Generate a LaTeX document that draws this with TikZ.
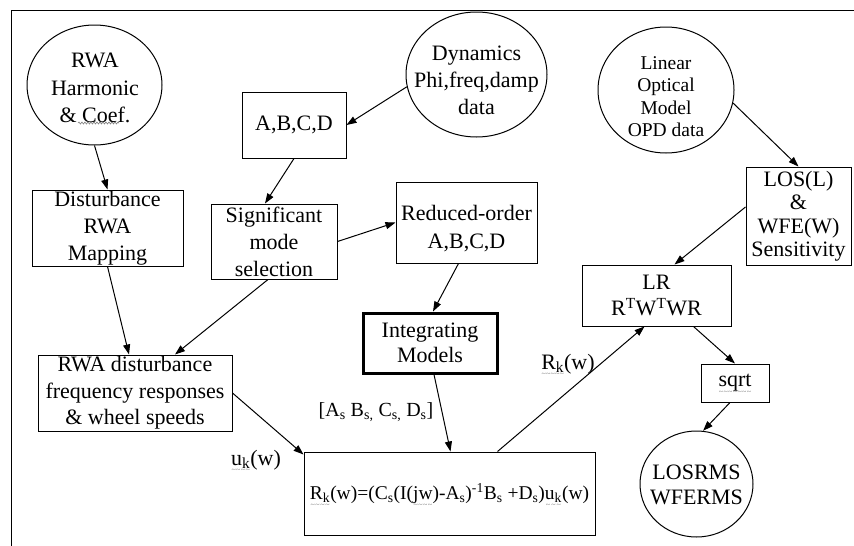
\documentclass[tikz,border=0pt]{standalone}
\usepackage{fontspec}
\setmainfont{Liberation Serif}
\usetikzlibrary{shapes.geometric,arrows.meta,decorations.pathmorphing}
% grey wavy underline (proofing marks under some words)
\newsavebox\squigbox
\newcommand\squig[1]{\sbox\squigbox{#1}%
  \rlap{\smash{\lower7.5pt\hbox to\wd\squigbox{\fontsize{8}{8}\selectfont\color{gray}\xleaders\hbox{\char126}\hfill}}}%
  \usebox\squigbox}

\begin{document}
\begin{tikzpicture}[x=1pt,y=-1pt,
  every node/.style={font=\fontsize{22}{27}\selectfont},
  box/.style={draw, line width=1pt, inner sep=0pt, align=center},
  oval/.style={draw, ellipse, line width=1pt, inner sep=0pt},
  txt/.style={align=center, inner sep=0pt},
  lbl/.style={inner sep=0pt},
  wave/.style={gray, line width=0.6pt, decorate, decoration={snake, amplitude=1pt, segment length=3pt}},
  arr/.style={line width=1pt, -{Triangle[length=10pt,width=7pt]}}]

\useasboundingbox (0,0) rectangle (854,546);
\fill[white] (0,0) rectangle (854,546);
% page frame
\draw[line width=1pt] (11,546) -- (11,10) -- (854,10);

% data sources
\node[oval, minimum width=135pt, minimum height=120pt] (rwa) at (94.5,85) {};
\node[txt, font=\fontsize{22}{27.5}\selectfont] (rwatext) at (95,88) {RWA\\Harmonic\\\& Coef.};
\draw[wave] (78,123) -- (119,123);

\node[oval, minimum width=141pt, minimum height=125pt] (dyn) at (476.5,74.5) {};
\node[txt] at (476.5,80) {Dynamics\\Phi,freq,damp\\data};

\node[oval, minimum width=136pt, minimum height=126pt] (lin) at (666,90) {};
\node[txt, font=\fontsize{19.5}{22.4}\selectfont] at (666,96.5) {Linear\\Optical\\Model\\OPD data};

\node[oval, minimum width=113pt, minimum height=106pt] (rms) at (696.5,484) {};
\node[txt, font=\fontsize{22}{25}\selectfont] at (696.5,485) {LOSRMS\\WFERMS};

% processing blocks
\node[box, minimum width=151pt, minimum height=76pt] (dist) at (107.5,228) {Disturbance\\RWA\\Mapping};
\node[box, minimum width=104pt, minimum height=66pt] (abcd) at (294,125) {A,B,C,D};
\node[box, minimum width=126pt, minimum height=75pt] (sig) at (274,241.5) {Significant\\mode\\selection};
\node[box, minimum width=141pt, minimum height=81pt, font=\fontsize{22}{28}\selectfont] (red) at (466.5,222.5) {\rule{0pt}{27pt}Reduced-order\\A,B,C,D};
\node[box, line width=3pt, minimum width=134pt, minimum height=60pt, font=\fontsize{22}{25}\selectfont] (intg) at (430,343) {Integrating\\Models};
\node[box, minimum width=194pt, minimum height=76pt, font=\fontsize{22}{26.5}\selectfont] (rwad) at (135,393) {RWA disturbance\\frequency responses\\\& wheel speeds};
\node[box, minimum width=291pt, minimum height=83pt, font=\fontsize{19.5}{24}\selectfont] (eq) at (449.5,493.5)
  {\squig{R\textsubscript{k}}(w)=(C\textsubscript{s}(I(\squig{jw})-A\textsubscript{s})\textsuperscript{-1}B\textsubscript{s} +D\textsubscript{s})\squig{u\textsubscript{k}}(w)};
\node[box, minimum width=149pt, minimum height=61pt, font=\fontsize{22}{26}\selectfont] (lr) at (656.5,295.5) {LR\\R\textsuperscript{T}W\textsuperscript{T}WR};
\node[box, minimum width=105pt, minimum height=98pt, font=\fontsize{22}{23.5}\selectfont] (los) at (798.5,216) {LOS(L)\\\&\\WFE(W)\\Sensitivity};
\node[box, minimum width=68pt, minimum height=38pt] (sqrtb) at (735,383) {\squig{sqrt}};

% signal labels
\node[lbl] (uk) at (256,460) {\squig{u\textsubscript{k}}(w)};
\node[lbl, font=\fontsize{20}{24}\selectfont] (abcds) at (376,412) {[A\textsubscript{s} B\textsubscript{s,} C\textsubscript{s,} D\textsubscript{s}]};
\node[lbl] (rk) at (568,364) {\squig{R\textsubscript{k}}(w)};

% connectors
\draw[arr] (rwa.south) -- (dist.north);
\draw[arr] (dyn.190) -- (abcd.east);
\draw[arr] (abcd.south) -- ([xshift=-9pt]sig.north);
\draw[arr] (sig.east) -- (red.west);
\draw[arr] ([xshift=-8pt]red.south) -- ([xshift=3pt]intg.north);
\draw[arr] (dist.south) -- ([xshift=-6pt]rwad.north);
\draw[arr] ([xshift=-6pt]sig.south) -- ([xshift=40pt]rwad.north);
\draw[arr] (rwad.east) -- ([yshift=-3pt]eq.north west);
\draw[arr] ([xshift=4pt]intg.south) -- ([xshift=1pt]eq.north);
\draw[arr] ([xshift=48pt]eq.north) -- ([xshift=-12pt]lr.south);
\draw[arr] (lin.-11) -- (los.north);
\draw[arr] ([yshift=9pt]los.west) -- ([xshift=18pt]lr.north);
\draw[arr] ([xshift=37pt]lr.south) -- (sqrtb.north);
\draw[arr] ([xshift=-5pt]sqrtb.south) -- (rms.83);
\end{tikzpicture}
\end{document}
